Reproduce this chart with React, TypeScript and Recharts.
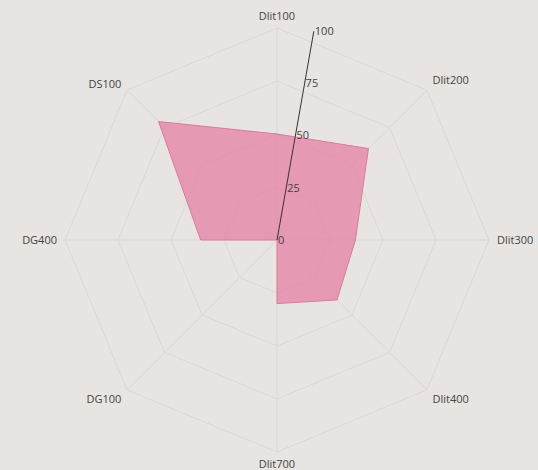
import { RadarChart, Radar, PolarGrid, PolarAngleAxis, PolarRadiusAxis } from "recharts"

// Kategoriler ve değerler
const categories = ["Dlit100", "Dlit200", "Dlit300", "Dlit400", "Dlit700", "DG100", "DG400", "DS100"]
const values = [50, 61, 37, 40, 30, 0, 36, 79]
const radiusTicks = [0, 25, 50, 75, 100]

const data = categories.map((name, i) => ({ name, value: values[i] }))

// Döndürülmemiş yarıçap etiketi
function RadiusTick(props: any) {
  const { x, y, payload } = props
  return (
    <text x={x + 1} y={y} dy="0.35em" textAnchor="start" fill="#444" fontSize={11}>
      {payload.value}
    </text>
  )
}

export default function App() {
  return (
    <div
      style={{
        position: "absolute",
        left: 0,
        top: 0,
        width: 538,
        height: 470,
        background: "#e7e4e1",
        fontFamily: "'Open Sans', sans-serif",
      }}
    >
      <RadarChart width={538} height={470} data={data} cx={277} cy={240} outerRadius={212} margin={{ top: 0, right: 0, bottom: 0, left: 0 }}>
        <PolarGrid gridType="polygon" stroke="#dbd9d7" polarRadius={[53, 106, 159, 212]} />
        <PolarAngleAxis dataKey="name" tick={{ fill: "#444", fontSize: 11 }} tickLine={false} axisLine={false} />
        <PolarRadiusAxis
          angle={80}
          domain={[0, 100]}
          ticks={radiusTicks as any}
          tickCount={5}
          stroke="#333"
          tick={<RadiusTick />}
          tickLine={false}
        />
        <Radar
          dataKey="value"
          stroke="#d97c9f"
          fill="#e5799f"
          fillOpacity={0.7}
          isAnimationActive={false}
        />
      </RadarChart>
    </div>
  )
}
